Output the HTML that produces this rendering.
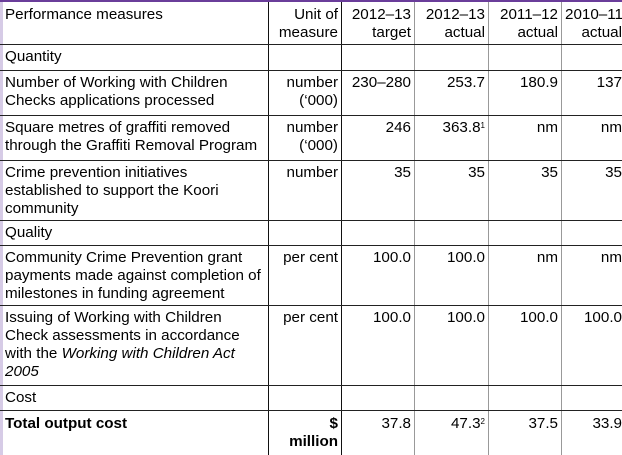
<!DOCTYPE html>
<html><head><meta charset="utf-8"><style>
body{margin:0;width:622px;height:455px;background:#fff;overflow:hidden;font-family:"Liberation Sans",sans-serif;font-size:15.2px;color:#000;}
#t{position:absolute;left:0;top:0;width:622px;height:455px;}
.c{position:absolute;line-height:18px;box-sizing:border-box;padding:0 4px;white-space:nowrap;}
.r{text-align:right;}
.h{position:absolute;left:0;width:622px;height:1px;background:#222;}
.v{position:absolute;top:2px;width:1px;height:453px;}
sup{font-size:8px;vertical-align:top;position:relative;top:-2px;}
</style></head><body>
<div id="t">
<div style="position:absolute;left:0;top:0;width:622px;height:2px;background:#6a3d9a"></div>
<div class="v" style="left:0;width:3px;background:#d6cbe6"></div>
<div class="v" style="left:268px;background:#111"></div>
<div class="v" style="left:341px;background:#111"></div>
<div class="v" style="left:414px;background:#999"></div>
<div class="v" style="left:488px;background:#999"></div>
<div class="v" style="left:561px;background:#999"></div>
<div class="h" style="top:44px"></div><div class="h" style="top:70px"></div><div class="h" style="top:115px"></div>
<div class="h" style="top:160px"></div><div class="h" style="top:220px"></div><div class="h" style="top:245px"></div>
<div class="h" style="top:305px"></div><div class="h" style="top:385px"></div><div class="h" style="top:410px"></div>

<div>
<div class="c" style="left:1px;top:6px">Performance measures</div>
<div class="c r" style="left:268px;width:73px;top:6px;padding-right:3px">Unit of<br>measure</div>
<div class="c r" style="left:341px;width:73px;top:6px;padding-right:3px">2012–13<br>target</div>
<div class="c r" style="left:414px;width:74px;top:6px;padding-right:3px">2012–13<br>actual</div>
<div class="c r" style="left:488px;width:73px;top:6px;padding-right:3px">2011–12<br>actual</div>
<div class="c r" style="left:561px;width:61px;top:6px;padding-right:0">2010–11<br>actual</div>
</div>
<div class="c" style="left:1px;top:48px">Quantity</div>

<div>
<div class="c" style="left:1px;top:74px">Number of Working with Children<br>Checks applications processed</div>
<div class="c r" style="left:268px;width:73px;top:74px;padding-right:3px">number<br>(‘000)</div>
<div class="c r" style="left:341px;width:73px;top:74px;padding-right:3px">230–280</div>
<div class="c r" style="left:414px;width:74px;top:74px;padding-right:3px">253.7</div>
<div class="c r" style="left:488px;width:73px;top:74px;padding-right:3px">180.9</div>
<div class="c r" style="left:561px;width:61px;top:74px;padding-right:0">137</div>
</div>
<div>
<div class="c" style="left:1px;top:119px">Square metres of graffiti removed<br>through the Graffiti Removal Program</div>
<div class="c r" style="left:268px;width:73px;top:119px;padding-right:3px">number<br>(‘000)</div>
<div class="c r" style="left:341px;width:73px;top:119px;padding-right:3px">246</div>
<div class="c r" style="left:414px;width:74px;top:119px;padding-right:3px">363.8<sup>1</sup></div>
<div class="c r" style="left:488px;width:73px;top:119px;padding-right:3px">nm</div>
<div class="c r" style="left:561px;width:61px;top:119px;padding-right:0">nm</div>
</div>
<div>
<div class="c" style="left:1px;top:164px">Crime prevention initiatives<br>established to support the Koori<br>community</div>
<div class="c r" style="left:268px;width:73px;top:164px;padding-right:3px">number</div>
<div class="c r" style="left:341px;width:73px;top:164px;padding-right:3px">35</div>
<div class="c r" style="left:414px;width:74px;top:164px;padding-right:3px">35</div>
<div class="c r" style="left:488px;width:73px;top:164px;padding-right:3px">35</div>
<div class="c r" style="left:561px;width:61px;top:164px;padding-right:0">35</div>
</div>
<div class="c" style="left:1px;top:224px">Quality</div>
<div>
<div class="c" style="left:1px;top:249px">Community Crime Prevention grant<br>payments made against completion of<br>milestones in funding agreement</div>
<div class="c r" style="left:268px;width:73px;top:249px;padding-right:3px">per cent</div>
<div class="c r" style="left:341px;width:73px;top:249px;padding-right:3px">100.0</div>
<div class="c r" style="left:414px;width:74px;top:249px;padding-right:3px">100.0</div>
<div class="c r" style="left:488px;width:73px;top:249px;padding-right:3px">nm</div>
<div class="c r" style="left:561px;width:61px;top:249px;padding-right:0">nm</div>
</div>
<div>
<div class="c" style="left:1px;top:309px">Issuing of Working with Children<br>Check assessments in accordance<br>with the <i>Working with Children Act<br>2005</i></div>
<div class="c r" style="left:268px;width:73px;top:309px;padding-right:3px">per cent</div>
<div class="c r" style="left:341px;width:73px;top:309px;padding-right:3px">100.0</div>
<div class="c r" style="left:414px;width:74px;top:309px;padding-right:3px">100.0</div>
<div class="c r" style="left:488px;width:73px;top:309px;padding-right:3px">100.0</div>
<div class="c r" style="left:561px;width:61px;top:309px;padding-right:0">100.0</div>
</div>
<div class="c" style="left:1px;top:389px">Cost</div>
<div>
<div class="c" style="left:1px;top:415px;font-weight:bold">Total output cost</div>
<div class="c r" style="left:268px;width:73px;top:415px;font-weight:bold;padding-right:3px">$<br>million</div>
<div class="c r" style="left:341px;width:73px;top:415px;padding-right:3px">37.8</div>
<div class="c r" style="left:414px;width:74px;top:415px;padding-right:3px">47.3<sup>2</sup></div>
<div class="c r" style="left:488px;width:73px;top:415px;padding-right:3px">37.5</div>
<div class="c r" style="left:561px;width:61px;top:415px;padding-right:0">33.9</div>
</div>
</div>
</body></html>
